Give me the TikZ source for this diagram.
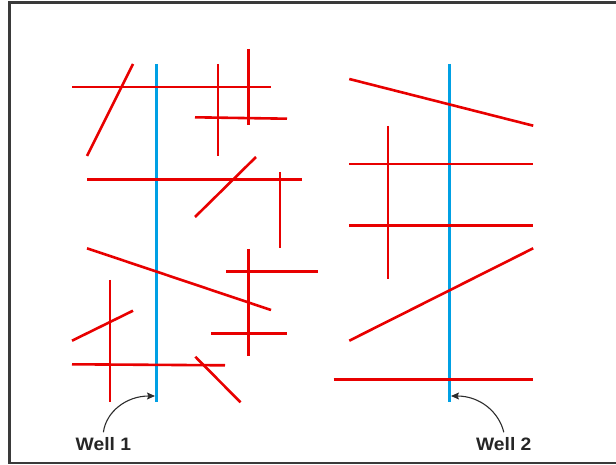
\documentclass[tikz,border=0pt]{standalone}
\usepackage{fontspec}
\usetikzlibrary{arrows.meta}
\newfontfamily\labfont[FakeStretch=1.07]{Liberation Sans}
\definecolor{fred}{RGB}{232,0,0}
\definecolor{wblue}{RGB}{0,160,228}
\definecolor{frame}{RGB}{58,58,58}
\definecolor{arr}{RGB}{45,45,45}
\begin{document}
\begin{tikzpicture}[x=1pt,y=-1pt,
  fault/.style={draw=fred,line width=2.6pt},
  well/.style={draw=wblue,line width=2.6pt},
  welllabel/.style={font=\labfont\bfseries\fontsize{18}{20}\selectfont,text=black!85,inner sep=0pt,anchor=base},
  pointer/.style={draw=arr,line width=1.1pt,-{Stealth[length=8pt,width=7pt,inset=1.5pt]}}]
\useasboundingbox (0,0) rectangle (616,465);
\draw[frame,line width=2.6pt] (616,2.5) -- (9.5,2.5) -- (9.5,463) -- (616,463);
% wells
\coordinate (w1top) at (156.5,64);
\coordinate (w1bot) at (156.5,402);
\coordinate (w2top) at (449.5,64);
\coordinate (w2bot) at (449.5,402);
\draw[well] (w1top) -- (w1bot);
\draw[well] (w2top) -- (w2bot);
% faults around well 1
\draw[fault] (72,87) -- (271,87);
\draw[fault] (133,64) -- (87,156);
\draw[fault] (218,64) -- (218,156);
\draw[fault] (248.3,49) -- (248.3,125);
\draw[fault] (195,117.3) -- (287,118.7);
\draw[fault] (87,179.3) -- (302,179.3);
\draw[fault] (256,157) -- (195,217);
\draw[fault] (280,172) -- (280,248.5);
\draw[fault] (87,248.3) -- (271,310);
\draw[fault] (248.3,249) -- (248.3,356);
\draw[fault] (226,271.7) -- (317.5,271.7);
\draw[fault] (211,333.3) -- (287,333.3);
\draw[fault] (110,280) -- (110,402);
\draw[fault] (72,340.7) -- (133,310.7);
\draw[fault] (72,364.3) -- (225,365.3);
\draw[fault] (195.3,356.7) -- (240.5,402.3);
% faults around well 2
\draw[fault] (349.3,79) -- (533.2,125.7);
\draw[fault] (387.8,126) -- (387.8,279.3);
\draw[fault] (349.3,164) -- (533.2,164);
\draw[fault] (349.3,225.7) -- (533.2,225.7);
\draw[fault] (349.3,340.7) -- (533.2,248.3);
\draw[fault] (333.6,379.3) -- (533.2,379.3);
% labels and pointers
\node[welllabel] (l1) at (103.4,450.5) {Well 1};
\node[welllabel] (l2) at (503.8,450.5) {Well 2};
\coordinate (t1) at (155,396);
\coordinate (t2) at (451,396);
\draw[pointer] ([yshift=5pt]l1.north) .. controls (106,412) and (126,396) .. (t1);
\draw[pointer] ([yshift=5pt]l2.north) .. controls (499,412) and (480,396) .. (t2);
\end{tikzpicture}
\end{document}
